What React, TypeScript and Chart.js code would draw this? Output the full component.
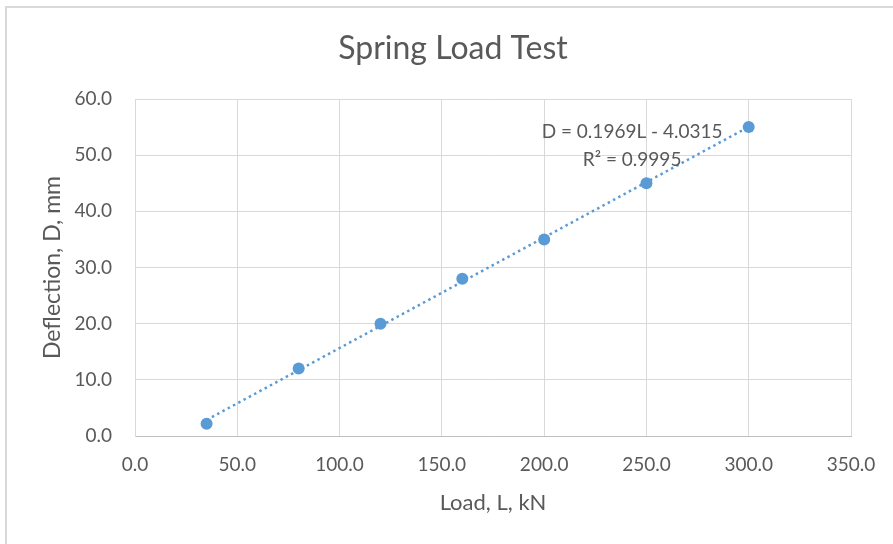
import React, { useEffect, useRef } from "react";
import { Chart, registerables } from "chart.js";

Chart.register(...registerables);

// ---- data ----
const chartTitle = "Spring Load Test";
const xAxisTitle = "Load, L, kN";
const yAxisTitle = "Deflection, D, mm";
const loadKN = [35, 80, 120, 160, 200, 250, 300];
const deflectionMM = [2.2, 12, 20, 28, 35, 45, 55];
// linear trendline end points (D = 0.1969L - 4.0315)
const trendLoad = [35, 300];
const trendDeflection = [2.86, 55.04];
const equationLines = ["D = 0.1969L - 4.0315", "R² = 0.9995"];
const xTickValues = [0, 50, 100, 150, 200, 250, 300, 350];
const yTickValues = [0, 10, 20, 30, 40, 50, 60];

const FONT = "Lato";
const TEXT = "#595959";
const BLUE = "#5b9bd5";
const GRID = "#d9d9d9";

const framePlugin = {
  id: "frame",
  beforeDraw(chart: any) {
    const ctx = chart.ctx;
    ctx.save();
    ctx.fillStyle = "#ffffff";
    ctx.fillRect(0, 0, chart.width, chart.height);
    ctx.strokeStyle = "#d9d9d9";
    ctx.lineWidth = 2;
    ctx.beginPath();
    ctx.moveTo(6, chart.height);
    ctx.lineTo(6, 7);
    ctx.lineTo(chart.width, 7);
    ctx.stroke();
    // chart title (centred on the whole chart frame)
    ctx.font = `32px ${FONT}`;
    ctx.fillStyle = TEXT;
    ctx.textAlign = "center";
    ctx.textBaseline = "middle";
    ctx.fillText(chartTitle, 453, 49);
    ctx.restore();
  },
};

const equationPlugin = {
  id: "equation",
  afterDatasetsDraw(chart: any) {
    const { ctx, scales } = chart;
    const cx = scales.x.getPixelForValue(243);
    const cy = scales.y.getPixelForValue(54.1);
    ctx.save();
    ctx.font = `19px ${FONT}`;
    ctx.fillStyle = TEXT;
    ctx.textAlign = "center";
    ctx.textBaseline = "middle";
    equationLines.forEach((line, i) => ctx.fillText(line, cx, cy + i * 28));
    ctx.restore();
  },
};

export default function App() {
  const canvasRef = useRef<HTMLCanvasElement | null>(null);

  useEffect(() => {
    if (!canvasRef.current) return;
    const chart = new Chart(canvasRef.current, {
      type: "scatter",
      data: {
        datasets: [
          {
            label: "Deflection",
            data: loadKN.map((x, i) => ({ x, y: deflectionMM[i] })),
            backgroundColor: BLUE,
            borderColor: BLUE,
            pointRadius: 6,
            pointHoverRadius: 6,
            pointBorderWidth: 0,
            showLine: false,
          },
          {
            label: "Trend",
            data: trendLoad.map((x, i) => ({ x, y: trendDeflection[i] })),
            borderColor: BLUE,
            backgroundColor: BLUE,
            borderWidth: 2.5,
            borderDash: [2.5, 3.5],
            pointRadius: 0,
            showLine: true,
          } as any,
        ],
      },
      options: {
        animation: false,
        responsive: false,
        devicePixelRatio: 1,
        layout: { padding: { left: 0, right: 42, top: 99, bottom: 0 } },
        plugins: {
          legend: { display: false },
          tooltip: { enabled: false },
          title: { display: false },
        },
        scales: {
          x: {
            type: "linear",
            min: 0,
            max: 350,
            afterBuildTicks: (s: any) => {
              s.ticks = xTickValues.map((v) => ({ value: v }));
            },
            afterFit: (s: any) => {
              s.height = 108;
            },
            ticks: {
              color: TEXT,
              font: { family: FONT, size: 19 },
              padding: 17,
              callback: (v: any) => Number(v).toFixed(1),
              maxRotation: 0,
            },
            grid: { color: GRID, drawTicks: false },
            border: { color: "#bfbfbf" },
            title: {
              display: true,
              text: xAxisTitle,
              color: TEXT,
              font: { family: FONT, size: 22 },
              padding: { top: 0, bottom: 28 },
            },
          },
          y: {
            type: "linear",
            min: 0,
            max: 60,
            afterBuildTicks: (s: any) => {
              s.ticks = yTickValues.map((v) => ({ value: v }));
            },
            afterFit: (s: any) => {
              s.width = 135;
            },
            ticks: {
              color: TEXT,
              font: { family: FONT, size: 19 },
              padding: 23,
              callback: (v: any) => Number(v).toFixed(1),
            },
            grid: { color: GRID, drawTicks: false },
            border: { color: GRID },
            title: {
              display: true,
              text: yAxisTitle,
              color: TEXT,
              font: { family: FONT, size: 23 },
              padding: { top: 39, bottom: 0 },
            },
          },
        },
      },
      plugins: [framePlugin, equationPlugin],
    });
    return () => chart.destroy();
  }, []);

  return (
    <div style={{ position: "absolute", left: 0, top: 0, width: 893, height: 544 }}>
      <canvas ref={canvasRef} width={893} height={544} style={{ width: 893, height: 544, display: "block" }} />
    </div>
  );
}
